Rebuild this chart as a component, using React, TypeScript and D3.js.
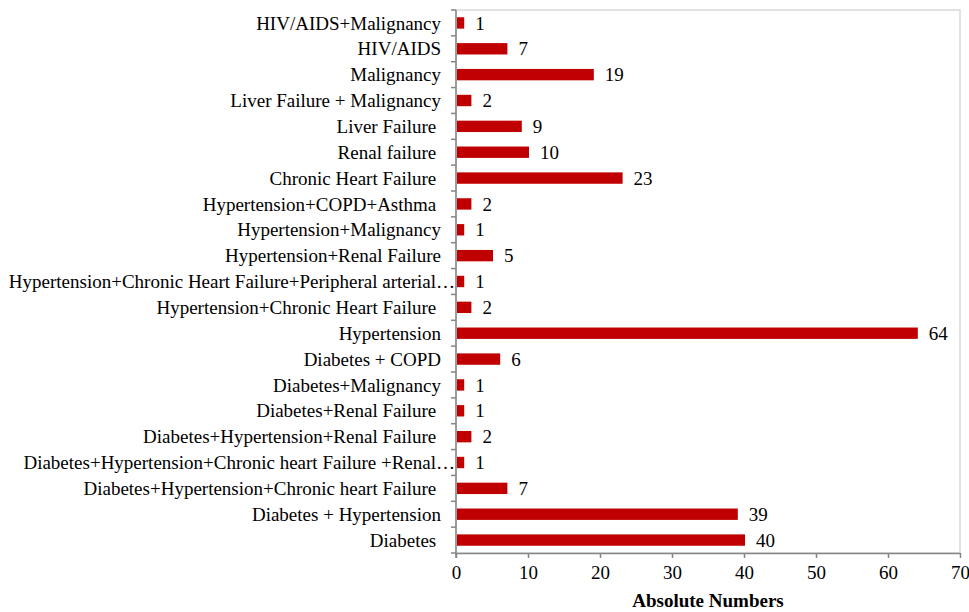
import React, { useEffect, useRef } from 'react';
import * as d3 from 'd3';

// categories listed bottom to top, as in the source chart
const categories = [
    'Diabetes ',
    'Diabetes + Hypertension',
    'Diabetes+Hypertension+Chronic heart Failure ',
    'Diabetes+Hypertension+Chronic heart Failure +Renal…',
    'Diabetes+Hypertension+Renal Failure ',
    'Diabetes+Renal Failure ',
    'Diabetes+Malignancy',
    'Diabetes + COPD',
    'Hypertension',
    'Hypertension+Chronic Heart Failure ',
    'Hypertension+Chronic Heart Failure+Peripheral arterial…',
    'Hypertension+Renal Failure',
    'Hypertension+Malignancy',
    'Hypertension+COPD+Asthma ',
    'Chronic Heart Failure ',
    'Renal failure ',
    'Liver Failure ',
    'Liver Failure + Malignancy',
    'Malignancy',
    'HIV/AIDS',
    'HIV/AIDS+Malignancy',
];
const counts = [40, 39, 7, 1, 2, 1, 1, 6, 64, 2, 1, 5, 1, 2, 23, 10, 9, 2, 19, 7, 1];
const xTicks = [0, 10, 20, 30, 40, 50, 60, 70];
const xTitle = 'Absolute Numbers';

const W = 969;
const H = 612;

const App = () => {
    const ref = useRef<SVGSVGElement>(null);

    useEffect(() => {
        const svg = d3.select(ref.current);
        svg.selectAll('*').remove();

        const margin = { top: 10, right: 9, bottom: 59, left: 456 };
        const width = W - margin.left - margin.right;
        const height = H - margin.top - margin.bottom;
        const font = '"Liberation Serif", "Times New Roman", serif';
        const fontSize = '19px';
        const axisColor = '#868686';

        const g = svg.append('g')
            .attr('transform', 'translate(' + margin.left + ',' + margin.top + ')');

        const x = d3.scaleLinear().domain([0, 70]).range([0, width]);
        const y = d3.scaleBand()
            .domain(d3.range(categories.length).map(String))
            .range([height, 0])
            .paddingInner(0.56)
            .paddingOuter(0.28);

        // plot area border (top / right)
        g.append('rect')
            .attr('x', 0).attr('y', 0)
            .attr('width', width).attr('height', height)
            .attr('fill', 'none')
            .attr('stroke', '#d9d9d9')
            .attr('stroke-width', 1.5);

        // bars
        g.selectAll('.bar')
            .data(counts)
            .enter().append('rect')
            .attr('class', 'bar')
            .attr('x', x(0) + 1)
            .attr('y', (d: number, i: number) => y(String(i)) as number)
            .attr('width', (d: number) => x(d) - x(0))
            .attr('height', y.bandwidth())
            .attr('fill', '#c00000');

        // value labels
        g.selectAll('.val')
            .data(counts)
            .enter().append('text')
            .attr('class', 'val')
            .attr('x', (d: number) => x(d) + 12)
            .attr('y', (d: number, i: number) => (y(String(i)) as number) + y.bandwidth() / 2)
            .attr('dy', '0.35em')
            .style('font-family', font)
            .style('font-size', fontSize)
            .attr('fill', '#000')
            .text((d: number) => d);

        // y axis line with ticks at category boundaries
        g.append('line')
            .attr('x1', 0).attr('x2', 0)
            .attr('y1', 0).attr('y2', height + 5)
            .attr('stroke', axisColor).attr('stroke-width', 1.5);
        const step = height / categories.length;
        g.selectAll('.ytick')
            .data(d3.range(categories.length + 1))
            .enter().append('line')
            .attr('class', 'ytick')
            .attr('x1', -5).attr('x2', 0)
            .attr('y1', (d: number) => d * step)
            .attr('y2', (d: number) => d * step)
            .attr('stroke', axisColor).attr('stroke-width', 1.5);

        // category labels
        g.selectAll('.cat')
            .data(categories)
            .enter().append('text')
            .attr('class', 'cat')
            .attr('x', (d: string) => d.endsWith('…') ? -1 : -15)
            .attr('y', (d: string, i: number) => (y(String(i)) as number) + y.bandwidth() / 2)
            .attr('dy', '0.35em')
            .attr('text-anchor', 'end')
            .style('white-space', 'pre')
            .style('font-family', font)
            .style('font-size', fontSize)
            .attr('fill', '#000')
            .text((d: string) => d);

        // x axis
        const xAxis = g.append('g')
            .attr('transform', 'translate(0,' + height + ')')
            .call(d3.axisBottom(x).tickValues(xTicks).tickSize(5).tickSizeOuter(0));
        xAxis.select('.domain').attr('stroke', axisColor).attr('stroke-width', 1.5);
        xAxis.selectAll('.tick line').attr('stroke', axisColor).attr('stroke-width', 1.5);
        xAxis.selectAll('.tick text')
            .attr('y', 13)
            .style('font-family', font)
            .style('font-size', fontSize)
            .attr('fill', '#000');

        svg.append('text')
            .attr('x', margin.left + width / 2)
            .attr('y', 607)
            .attr('text-anchor', 'middle')
            .style('font-family', font)
            .style('font-size', fontSize)
            .style('font-weight', 'bold')
            .attr('fill', '#000')
            .text(xTitle);
    }, []);

    return (
        <svg ref={ref} width={W} height={H}
            style={{ position: 'absolute', left: 0, top: 0, background: '#fff' }} />
    );
};

export default App;
